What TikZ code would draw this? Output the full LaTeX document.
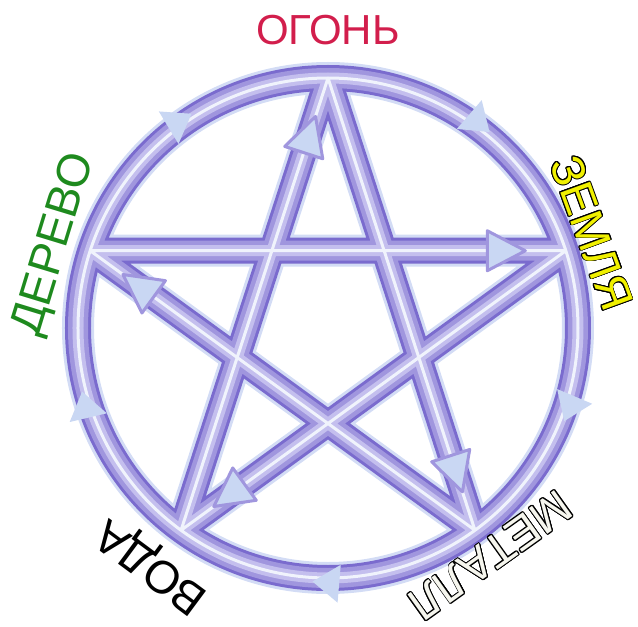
\documentclass[tikz,border=0pt]{standalone}
\usepackage{fontspec}
\setmainfont{Liberation Sans}
\usepackage{contour}
\usetikzlibrary{calc}
\definecolor{halo}{HTML}{D3DCF5}
\definecolor{tubedark}{HTML}{7A6BCE}
\definecolor{tubemid}{HTML}{A096DE}
\definecolor{tubelight}{HTML}{C4BFEE}
\definecolor{tubecore}{HTML}{F0F3FC}
\definecolor{headblue}{HTML}{C9D7F3}
\definecolor{firered}{HTML}{D21E4C}
\definecolor{earthyellow}{HTML}{F0F000}
\definecolor{woodgreen}{HTML}{1E8A1E}
\definecolor{metalwhite}{HTML}{F6F6EE}
\contourlength{0.9pt}
\contournumber{16}
\tikzset{
  elem/.style={inner sep=0pt,font=\fontsize{46}{46}\selectfont},
  head/.style={fill=headblue,draw=tubemid,line width=3pt,line join=round},
  rimhead/.style={fill=headblue}
}

\begin{document}
\begin{tikzpicture}[x=1pt,y=1pt]
  \useasboundingbox (-328,-299) rectangle (310,328);
  \coordinate (c) at (0,0);
  \coordinate (fire) at (90:250);
  \coordinate (earth) at (18:250);
  \coordinate (metal) at (-54:250);
  \coordinate (water) at (-126:250);
  \coordinate (wood) at (162:250);
  \foreach \w/\col in {32/halo,26/tubedark,20/tubemid,11/tubelight,3/tubecore}
    \draw[line width=\w pt,\col,line join=round] (c) circle[radius=250]
      (wood) -- (earth) -- (water) -- (fire) -- (metal) -- cycle;
  \foreach \a/\b in {water/fire,wood/earth,fire/metal,earth/water,metal/wood} {
    \coordinate (tip) at ($(\a)!0.915!(\b)$);
    \coordinate (base) at ($(\a)!0.835!(\b)$);
    \draw[head] (tip) -- ($(base)!20pt!90:(tip)$) -- ($(base)!20pt!-90:(tip)$) -- cycle;
  }
  \foreach \t in {126,54,-18,-90,198} {
    \coordinate (tip) at ({\t-3.5}:254);
    \coordinate (base) at ({\t+2.5}:256);
    \fill[rimhead] (tip) -- ($(base)!19pt!90:(tip)$) -- ($(base)!19pt!-90:(tip)$) -- cycle;
  }
  \node[elem,text=firered,font=\fontsize{42}{42}\selectfont] (firelbl) at (90:298) {ОГОНЬ};
  \node[elem,text=earthyellow,rotate=-70] (earthlbl) at (19.8:280) {\contour{black}{ЗЕМЛЯ}};
  \node[elem,text=metalwhite,rotate=-144.5] (metallbl) at (-54.5:279) {\contour{black}{МЕТАЛЛ}};
  \node[elem,rotate=143.4] (waterlbl) at (233.4:295) {ВОДА};
  \node[elem,text=woodgreen,rotate=73] (woodlbl) at (163:285) {ДЕРЕВО};
\end{tikzpicture}
\end{document}
